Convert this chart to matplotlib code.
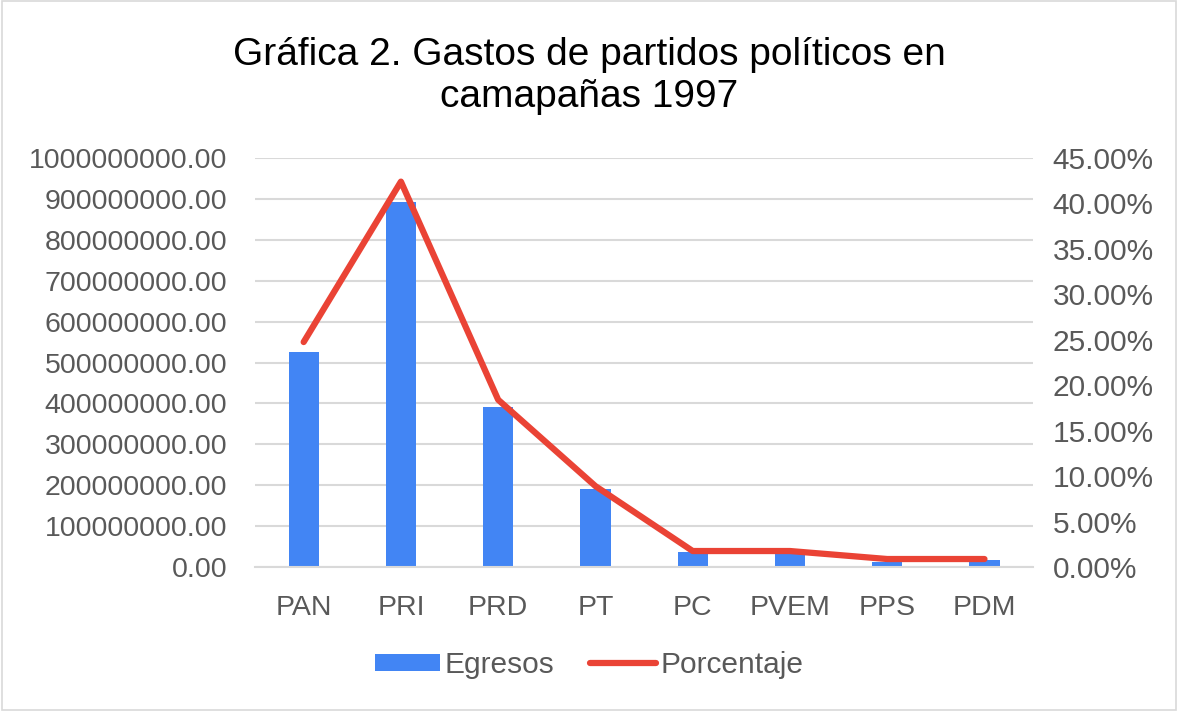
import numpy as np
import matplotlib.pyplot as plt
from matplotlib.patches import Rectangle
from matplotlib.ticker import FuncFormatter

plt.rcParams['font.family'] = ['Liberation Sans', 'DejaVu Sans']

# data
partidos = ['PAN', 'PRI', 'PRD', 'PT', 'PC', 'PVEM', 'PPS', 'PDM']
egresos = [526e6, 892e6, 391e6, 191e6, 37e6, 37e6, 12e6, 17e6]
porcentaje = [24.75, 42.4, 18.4, 8.9, 1.76, 1.76, 0.88, 0.88]

TXT = '#595959'
BLUE = '#4285F4'
RED = '#EA4335'
GRID = '#D9D9D9'

fig = plt.figure(figsize=(11.78, 7.11), dpi=100)
fig.patches.append(Rectangle((0.002, 0.002), 0.996, 0.996, transform=fig.transFigure,
                             fill=False, edgecolor='#D9D9D9', linewidth=1.2))

ax = fig.add_axes([0.2165, 0.2025, 0.6605, 0.5753])
x = np.arange(len(partidos))
ax.bar(x, egresos, width=0.31, color=BLUE, zorder=2, label='Egresos')
ax.set_xlim(-0.5, len(partidos) - 0.5)
ax.set_ylim(0, 1e9)
ax.set_yticks(np.arange(0, 1.0001e9, 1e8))
ax.yaxis.set_major_formatter(FuncFormatter(lambda v, p: f'{v:.2f}'))
ax.set_xticks(x)
ax.set_xticklabels(partidos)
ax.grid(axis='y', color=GRID, linewidth=1.5, zorder=0)
ax.set_axisbelow(True)
for s in ax.spines.values():
    s.set_visible(False)
ax.spines['bottom'].set_visible(True)
ax.spines['bottom'].set_color(GRID)
ax.spines['bottom'].set_linewidth(1.5)
ax.tick_params(length=0, labelsize=20.5, colors=TXT, pad=20)
ax.tick_params(axis='x', pad=20)

ax2 = ax.twinx()
ax2.plot(x, porcentaje, color=RED, linewidth=4.5, solid_capstyle='round', zorder=3,
         label='Porcentaje')
ax2.set_ylim(0, 45)
ax2.set_yticks(np.arange(0, 45.01, 5))
ax2.yaxis.set_major_formatter(FuncFormatter(lambda v, p: f'{v:.2f}%'))
for s in ax2.spines.values():
    s.set_visible(False)
ax2.tick_params(length=0, labelsize=21.5, colors=TXT, pad=14)

fig.text(0.5, 0.893, 'Gráfica 2. Gastos de partidos políticos en\ncamapañas 1997',
         ha='center', va='center', fontsize=28, color='#000000', linespacing=1.2)

h1, l1 = ax.get_legend_handles_labels()
h2, l2 = ax2.get_legend_handles_labels()
fig.legend(h1 + h2, l1 + l2, loc='center', bbox_to_anchor=(0.5, 0.065), ncol=2,
           frameon=False, fontsize=21.5, labelcolor=TXT, handlelength=2.2,
           handleheight=0.5, handletextpad=0.15, columnspacing=1.2)

fig.savefig('out.png', dpi=100)
